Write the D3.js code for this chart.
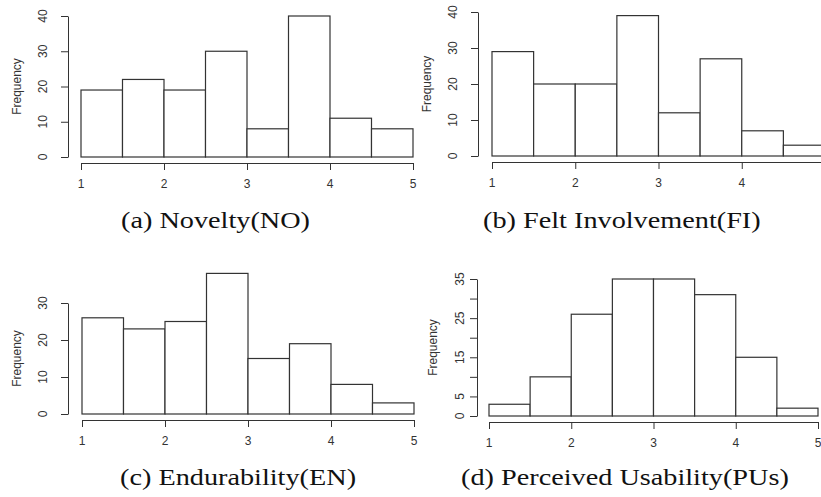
<!DOCTYPE html>
<html>
<head>
<meta charset="utf-8">
<script src="https://cdn.jsdelivr.net/npm/d3@7"></script>
<style>
  body { margin: 0; background: #fff; }
  svg { display: block; }
  .axis path, .axis line { stroke: #333; stroke-width: 1; }
  .lbl { font-family: "Liberation Sans", Arial, sans-serif; font-size: 12px; fill: #333; }
  .cap { font-family: "Liberation Serif", "Times New Roman", serif; font-size: 23px; fill: #111; }
</style>
</head>
<body>
<div id="chart"></div>
<script>
var w = 821;
var h = 497;

// histogram bin edges, shared by all four panels
var breaks = [1, 1.5, 2, 2.5, 3, 3.5, 4, 4.5, 5];
var xTicks = [1, 2, 3, 4, 5];

// counts per bin
var noveltyCounts = [19, 22, 19, 30, 8, 40, 11, 8];
var feltCounts = [29, 20, 20, 39, 12, 27, 7, 3];
var endurCounts = [26, 23, 25, 38, 15, 19, 8, 3];
var usabCounts = [3, 10, 26, 35, 35, 31, 15, 2];

// y ticks and which of them carry a label
var yTicksA = [0, 10, 20, 30, 40];
var yTicksB = [0, 10, 20, 30, 40];
var yTicksC = [0, 10, 20, 30];
var yTicksD = [0, 5, 10, 15, 20, 25, 30, 35];
var yLabelsD = [0, 5, 15, 25, 35];

var captions = ["(a) Novelty(NO)", "(b) Felt Involvement(FI)",
                "(c) Endurability(EN)", "(d) Perceived Usability(PUs)"];

var svg = d3.select("#chart")
            .append("svg")
            .attr("width", w)
            .attr("height", h);

// layout of each panel (pixels)
var panels = [
  {counts: noveltyCounts, ticks: yTicksA, labels: yTicksA, yMax: 40,
   x0: 81, x1: 413, y0: 157, y1: 16, axisY: 163, axisX: 68, tickOff: 25, titleOff: 51,
   cap: captions[0], capX: 121, capY: 228},
  {counts: feltCounts, ticks: yTicksB, labels: yTicksB, yMax: 40,
   x0: 492, x1: 825, y0: 156, y1: 12, axisY: 162, axisX: 478, tickOff: 25, titleOff: 51,
   cap: captions[1], capX: 483, capY: 228},
  {counts: endurCounts, ticks: yTicksC, labels: yTicksC, yMax: 30,
   x0: 82, x1: 414, y0: 414, y1: 303, axisY: 420, axisX: 68, tickOff: 25, titleOff: 51,
   cap: captions[2], capX: 120, capY: 485},
  {counts: usabCounts, ticks: yTicksD, labels: yLabelsD, yMax: 35,
   x0: 489, x1: 818, y0: 416, y1: 279, axisY: 422, axisX: 477, tickOff: 17, titleOff: 44,
   cap: captions[3], capX: 461, capY: 485}
];

panels.forEach(function(p) {
  var x = d3.scaleLinear().domain([1, 5]).range([p.x0, p.x1]);
  var y = d3.scaleLinear().domain([0, p.yMax]).range([p.y0, p.y1]);
  var g = svg.append("g");

  // bars
  var bins = p.counts.map(function(c, i) {
    return {lo: breaks[i], hi: breaks[i + 1], n: c};
  });
  g.selectAll("rect")
   .data(bins)
   .enter()
   .append("rect")
   .attr("x", function(d) { return x(d.lo); })
   .attr("width", function(d) { return x(d.hi) - x(d.lo); })
   .attr("y", function(d) { return y(d.n); })
   .attr("height", function(d) { return y(0) - y(d.n); })
   .style("fill", "#fff")
   .style("stroke", "#333")
   .style("stroke-width", 1.2);

  // x axis
  var xAxis = d3.axisBottom(x).tickValues(xTicks).tickSize(7).tickSizeOuter(0).tickFormat("");
  g.append("g")
   .attr("class", "axis")
   .attr("transform", "translate(0," + p.axisY + ")")
   .call(xAxis);
  // labels past the page edge are not shown (as in the source image)
  g.selectAll(".xl")
   .data(xTicks.filter(function(d) { return x(d) <= w - 2; }))
   .enter()
   .append("text")
   .attr("class", "lbl")
   .attr("x", function(d) { return x(d); })
   .attr("y", p.axisY + 21)
   .attr("dy", "0.35em")
   .attr("text-anchor", "middle")
   .text(function(d) { return d; });

  // y axis
  var yAxis = d3.axisLeft(y).tickValues(p.ticks).tickSize(7).tickSizeOuter(0).tickFormat("");
  g.append("g")
   .attr("class", "axis")
   .attr("transform", "translate(" + p.axisX + ",0)")
   .call(yAxis);
  g.selectAll(".yl")
   .data(p.labels)
   .enter()
   .append("text")
   .attr("class", "lbl")
   .attr("transform", function(d) {
     return "translate(" + (p.axisX - p.tickOff) + "," + y(d) + ") rotate(-90)";
   })
   .attr("dy", "0.35em")
   .attr("text-anchor", "middle")
   .text(function(d) { return d; });

  g.append("text")
   .attr("class", "lbl")
   .attr("transform", "translate(" + (p.axisX - p.titleOff) + "," + ((p.y0 + p.y1) / 2) + ") rotate(-90)")
   .attr("dy", "0.35em")
   .attr("text-anchor", "middle")
   .text("Frequency");

  p.capNode = svg.append("text")
   .attr("class", "cap")
   .attr("x", p.capX)
   .attr("y", p.capY)
   .text(p.cap);
});

// the caption font is wider than Times, so stretch the captions evenly
var k = 189 / panels[0].capNode.node().getComputedTextLength();
panels.forEach(function(p) {
  var len = p.capNode.node().getComputedTextLength();
  p.capNode.attr("textLength", len * k).attr("lengthAdjust", "spacingAndGlyphs");
});
</script>
</body>
</html>
